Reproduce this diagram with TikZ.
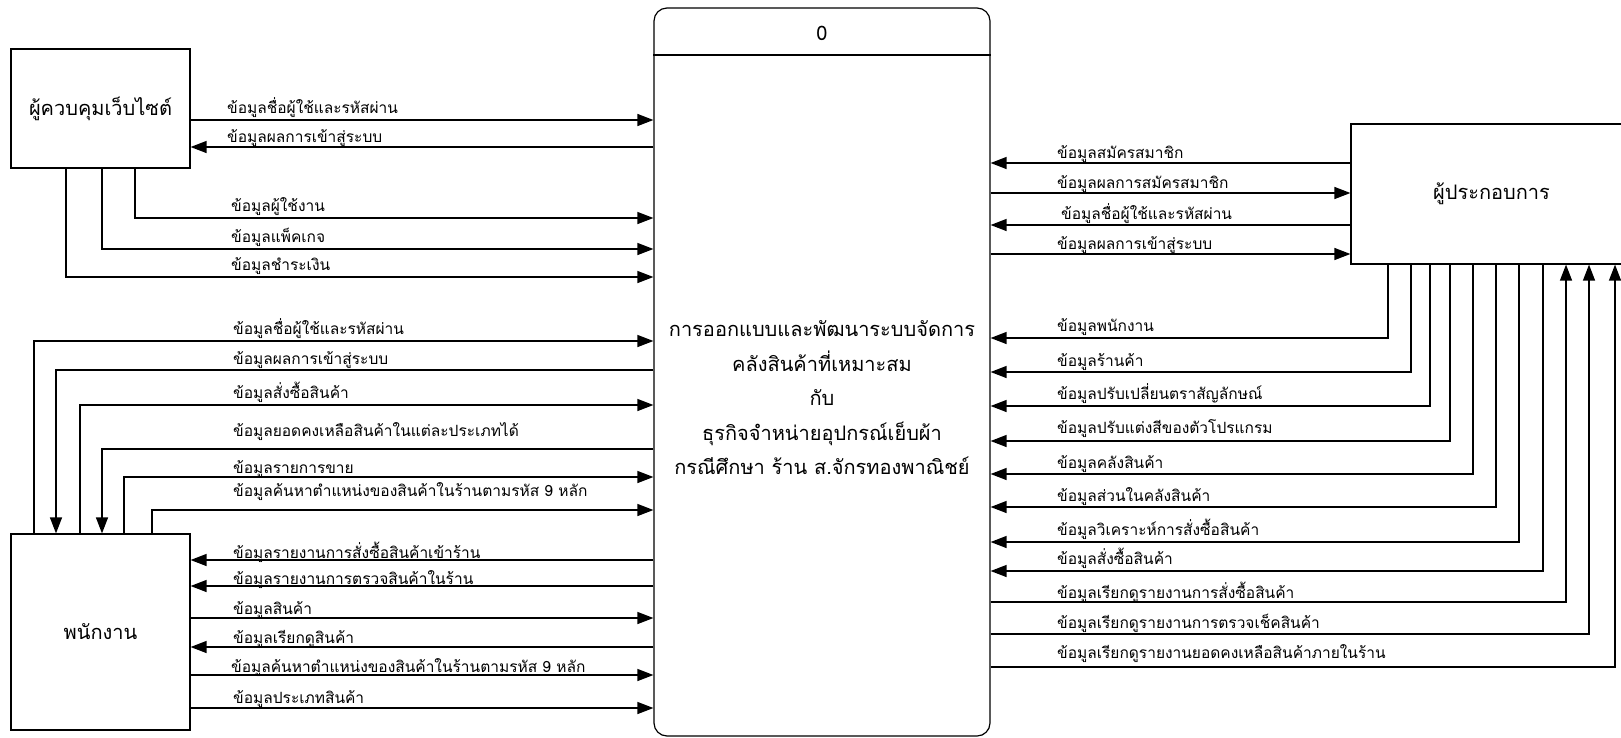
\documentclass[tikz,border=0pt]{standalone}
\usepackage{fontspec}
\newfontfamily\thaifont[Script=Thai]{Loma}
\usetikzlibrary{arrows.meta,positioning}
\tikzset{
  ent_box/.style={draw,line width=1.2pt,inner sep=0pt,
    font=\thaifont\fontsize{20}{24}\selectfont},
  proc_box/.style={draw,line width=1.2pt,rounded corners=13pt,
    minimum width=336pt,minimum height=728pt},
  proc_txt/.style={align=center,inner sep=0pt,
    font=\thaifont\fontsize{20}{34.5}\selectfont},
  flow/.style={-{Triangle[length=16pt,width=12pt]},line width=1.3pt},
  flow_lbl/.style={anchor=base west,inner sep=0pt,
    font=\thaifont\fontsize{15.5}{18}\selectfont},
}
\begin{document}
\begin{tikzpicture}[x=1pt,y=-1pt]
  \useasboundingbox (0,0) rectangle (1621,737);

  % process
  \node[proc_box] (proc) at (822,372) {};
  \node[font=\thaifont\fontsize{20}{22}\selectfont] (pnum) at (822,33) {0};
  \draw[line width=1.2pt] (proc.west |- 0,55) -- (proc.east |- 0,55);
  \node[proc_txt] (ptxt) at (822,398) {การออกแบบและพัฒนาระบบจัดการ\\คลังสินค้าที่เหมาะสม\\กับ\\ธุรกิจจำหน่ายอุปกรณ์เย็บผ้า\\กรณีศึกษา ร้าน ส.จักรทองพาณิชย์};

  % external entities
  \node[ent_box,minimum width=179pt,minimum height=119pt] (admin) at (100.5,108.5) {ผู้ควบคุมเว็บไซต์};
  \node[ent_box,minimum width=179pt,minimum height=196pt] (staff) at (100.5,632) {พนักงาน};
  \node[ent_box,minimum width=281pt,minimum height=140pt] (oper) at (1491.5,194) {ผู้ประกอบการ};

  % admin flows
  \draw[flow] (admin.east |- 0,120) -- (proc.west |- 0,120);
  \draw[flow] (proc.west |- 0,147) -- (admin.east |- 0,147);
  \draw[flow] (admin.south -| 135,0) |- (proc.west |- 0,218);
  \draw[flow] (admin.south -| 102,0) |- (proc.west |- 0,249);
  \draw[flow] (admin.south -| 66,0) |- (proc.west |- 0,277);
  \node[flow_lbl] (a1) at (227,113) {ข้อมูลชื่อผู้ใช้และรหัสผ่าน};
  \node[flow_lbl] (a2) at (227,142) {ข้อมูลผลการเข้าสู่ระบบ};
  \node[flow_lbl] (a3) at (231,211) {ข้อมูลผู้ใช้งาน};
  \node[flow_lbl] (a4) at (231,242) {ข้อมูลแพ็คเกจ};
  \node[flow_lbl] (a5) at (231,270) {ข้อมูลชำระเงิน};

  % staff flows (top)
  \draw[flow] (staff.north -| 34,0) |- (proc.west |- 0,341);
  \draw[flow] (proc.west |- 0,370) -| (staff.north -| 56,0);
  \draw[flow] (staff.north -| 80,0) |- (proc.west |- 0,405);
  \draw[flow] (proc.west |- 0,449) -| (staff.north -| 102,0);
  \draw[flow] (staff.north -| 124,0) |- (proc.west |- 0,477);
  \draw[flow] (staff.north -| 152,0) |- (proc.west |- 0,510);
  \node[flow_lbl] (s1) at (233,334) {ข้อมูลชื่อผู้ใช้และรหัสผ่าน};
  \node[flow_lbl] (s2) at (233,364) {ข้อมูลผลการเข้าสู่ระบบ};
  \node[flow_lbl] (s3) at (233,398) {ข้อมูลสั่งซื้อสินค้า};
  \node[flow_lbl] (s4) at (233,436) {ข้อมูลยอดคงเหลือสินค้าในแต่ละประเภทได้};
  \node[flow_lbl] (s5) at (233,473) {ข้อมูลรายการขาย};
  \node[flow_lbl] (s6) at (233,496) {ข้อมูลค้นหาตำแหน่งของสินค้าในร้านตามรหัส 9 หลัก};

  % staff flows (side)
  \draw[flow] (proc.west |- 0,560) -- (staff.east |- 0,560);
  \draw[flow] (proc.west |- 0,586) -- (staff.east |- 0,586);
  \draw[flow] (staff.east |- 0,618) -- (proc.west |- 0,618);
  \draw[flow] (proc.west |- 0,647) -- (staff.east |- 0,647);
  \draw[flow] (staff.east |- 0,675) -- (proc.west |- 0,675);
  \draw[flow] (staff.east |- 0,708) -- (proc.west |- 0,708);
  \node[flow_lbl] (s7) at (233,558) {ข้อมูลรายงานการสั่งซื้อสินค้าเข้าร้าน};
  \node[flow_lbl] (s8) at (233,584) {ข้อมูลรายงานการตรวจสินค้าในร้าน};
  \node[flow_lbl] (s9) at (233,614) {ข้อมูลสินค้า};
  \node[flow_lbl] (s10) at (233,643) {ข้อมูลเรียกดูสินค้า};
  \node[flow_lbl] (s11) at (231,672) {ข้อมูลค้นหาตำแหน่งของสินค้าในร้านตามรหัส 9 หลัก};
  \node[flow_lbl] (s12) at (233,703) {ข้อมูลประเภทสินค้า};

  % operator flows (side)
  \draw[flow] (oper.west |- 0,163) -- (proc.east |- 0,163);
  \draw[flow] (proc.east |- 0,193) -- (oper.west |- 0,193);
  \draw[flow] (oper.west |- 0,225) -- (proc.east |- 0,225);
  \draw[flow] (proc.east |- 0,254) -- (oper.west |- 0,254);
  \node[flow_lbl] (o1) at (1057,158) {ข้อมูลสมัครสมาชิก};
  \node[flow_lbl] (o2) at (1057,188) {ข้อมูลผลการสมัครสมาชิก};
  \node[flow_lbl] (o3) at (1061,219) {ข้อมูลชื่อผู้ใช้และรหัสผ่าน};
  \node[flow_lbl] (o4) at (1057,249) {ข้อมูลผลการเข้าสู่ระบบ};

  % operator flows (bottom)
  \draw[flow] (oper.south -| 1388,0) |- (proc.east |- 0,338);
  \draw[flow] (oper.south -| 1411,0) |- (proc.east |- 0,372);
  \draw[flow] (oper.south -| 1430,0) |- (proc.east |- 0,406);
  \draw[flow] (oper.south -| 1450,0) |- (proc.east |- 0,441);
  \draw[flow] (oper.south -| 1473,0) |- (proc.east |- 0,474);
  \draw[flow] (oper.south -| 1496,0) |- (proc.east |- 0,507);
  \draw[flow] (oper.south -| 1519,0) |- (proc.east |- 0,542);
  \draw[flow] (oper.south -| 1543,0) |- (proc.east |- 0,571);
  \draw[flow] (proc.east |- 0,602) -| (oper.south -| 1566,0);
  \draw[flow] (proc.east |- 0,634) -| (oper.south -| 1589,0);
  \draw[flow] (proc.east |- 0,667) -| (oper.south -| 1615,0);
  \node[flow_lbl] (o5) at (1057,331) {ข้อมูลพนักงาน};
  \node[flow_lbl] (o6) at (1057,366) {ข้อมูลร้านค้า};
  \node[flow_lbl] (o7) at (1057,399) {ข้อมูลปรับเปลี่ยนตราสัญลักษณ์};
  \node[flow_lbl] (o8) at (1057,433) {ข้อมูลปรับแต่งสีของตัวโปรแกรม};
  \node[flow_lbl] (o9) at (1057,468) {ข้อมูลคลังสินค้า};
  \node[flow_lbl] (o10) at (1057,501) {ข้อมูลส่วนในคลังสินค้า};
  \node[flow_lbl] (o11) at (1057,535) {ข้อมูลวิเคราะห์การสั่งซื้อสินค้า};
  \node[flow_lbl] (o12) at (1057,564) {ข้อมูลสั่งซื้อสินค้า};
  \node[flow_lbl] (o13) at (1057,598) {ข้อมูลเรียกดูรายงานการสั่งซื้อสินค้า};
  \node[flow_lbl] (o14) at (1057,628) {ข้อมูลเรียกดูรายงานการตรวจเช็คสินค้า};
  \node[flow_lbl] (o15) at (1057,658) {ข้อมูลเรียกดูรายงานยอดคงเหลือสินค้าภายในร้าน};
\end{tikzpicture}
\end{document}
